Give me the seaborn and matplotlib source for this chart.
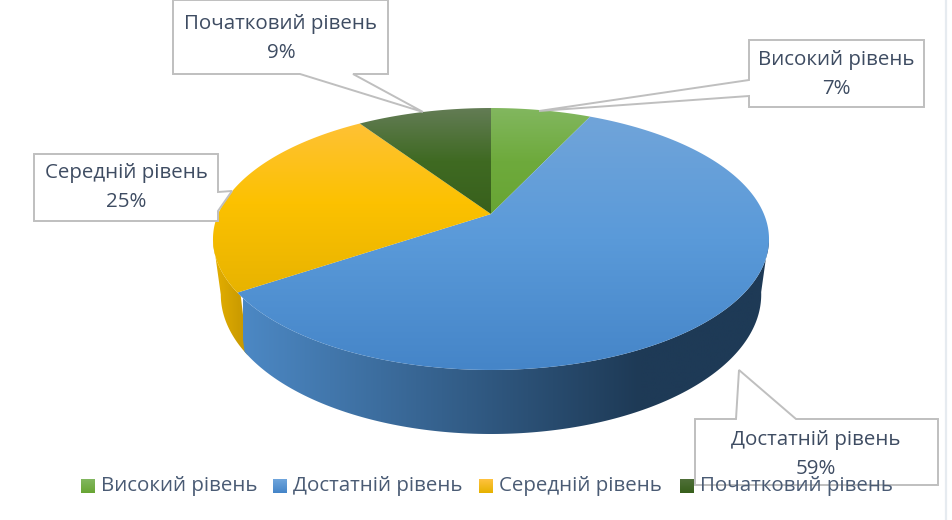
import numpy as np
import seaborn as sns
import matplotlib
matplotlib.use("Agg")
import matplotlib.pyplot as plt
from matplotlib.colors import LinearSegmentedColormap
from matplotlib.patches import Polygon

categories = ["Високий рівень", "Достатній рівень", "Середній рівень", "Початковий рівень"]
values = [7.0, 58.6, 25.0, 9.4]

top_shades = [
    ["#82b75f", "#6eaa3c", "#68a534"],
    ["#72a5da", "#5a9ad9", "#4585c8"],
    ["#ffc23f", "#fcc100", "#e6b200"],
    ["#637c55", "#3f6a22", "#38601c"],
]
legend_shades = [
    ["#82b75f", "#68a534"],
    ["#6fa5dc", "#4585c8"],
    ["#ffc23f", "#e6b200"],
    ["#4f6f38", "#38601c"],
]
side_blue = [(0.0, "#4c88c4"), (0.75, "#1e3a56"), (1.0, "#1e3a56")]
side_orange = [(0.0, "#e8b200"), (1.0, "#c49600")]

# box (left, right, top, bottom), side the pointer leaves from, pointer, text (x, line 1 y, line 2 y)
callouts = [
    ((749, 924, 40, 107), "left", [(749, 80), (539, 111), (749, 96)], (836, 60, 89)),
    ((695, 938, 419, 485), "top", [(736, 419), (739, 370), (796, 419)], (816, 440, 469)),
    ((34, 218, 154, 221), "right", [(218, 192), (232, 191), (218, 211)], (126, 173, 202)),
    ((173, 388, 0, 74), "bottom", [(353, 74), (423, 112), (300, 74)], (281, 24, 53)),
]
legend_boxes = [81, 273, 479, 680]

sns.set_theme(style="white")
plt.rcParams["font.family"] = ["Open Sans", "DejaVu Sans"]
TEXT = "#3e4c62"
LEG = "#4a5b74"
FS = 14.75

fig = plt.figure(figsize=(9.53, 5.2), dpi=100, facecolor="white")
ax = fig.add_axes([0, 0, 1, 1])


def rim(deg):
    t = np.radians(deg)
    u, v = np.sin(t), np.cos(t)
    w = 1 + 0.1908 * v
    return 491 + 272.9 * u / w, 214 - 126.2 * v / w


def low(x, y):
    return 491 + 0.972 * (x - 491), 40 + 1.065 * y


def gradient(colors, extent, clip, horizontal=False, z=2.0):
    cmap = LinearSegmentedColormap.from_list("g", colors)
    g = np.linspace(0, 1, 256)
    g = g[None, :] if horizontal else g[:, None]
    im = ax.imshow(g, cmap=cmap, extent=extent, aspect="auto", zorder=z, origin="upper",
                   interpolation="bilinear", vmin=0, vmax=1)
    patch = Polygon(clip, closed=True, transform=ax.transData, fc="none", ec="none")
    ax.add_patch(patch)
    im.set_clip_path(patch)
    return im


def side_polygon(a, b):
    x, y = rim(np.linspace(a, b, 160))
    lx, ly = low(x, y)
    return np.column_stack([np.r_[x, lx[::-1]], np.r_[y, ly[::-1]]])


edges = np.concatenate([[0], np.cumsum(values)]) * 3.6

# visible sides: only the front arc, between the silhouette angles
RIGHT_SIL, LEFT_SIL = 100.0, 259.0
gradient(side_orange, (210, 248, 440, 100), side_polygon(edges[2] - 1.5, LEFT_SIL), horizontal=True, z=2.0)
gradient(side_blue, (243, 772, 440, 100), side_polygon(RIGHT_SIL, edges[2]), horizontal=True, z=2.1)

# top faces
y_ends = [214, 370, 300, 214]
for i in range(len(values)):
    x, y = rim(np.linspace(edges[i], edges[i + 1], 200))
    poly = np.column_stack([np.r_[491, x], np.r_[214, y]])
    gradient(top_shades[i], (200, 780, y_ends[i], 108), poly, z=3)

# callouts
for (box, side, ptr, (tx, y1, y2)), cat, val in zip(callouts, categories, values):
    l, r, t, b = box
    if side == "left":
        pts = [(l, t), (r, t), (r, b), (l, b), ptr[2], ptr[1], ptr[0]]
    elif side == "right":
        pts = [(l, t), (r, t), ptr[0], ptr[1], ptr[2], (r, b), (l, b)]
    elif side == "top":
        pts = [(l, t), ptr[0], ptr[1], ptr[2], (r, t), (r, b), (l, b)]
    else:
        pts = [(l, t), (r, t), (r, b), ptr[0], ptr[1], ptr[2], (l, b)]
    ax.add_patch(Polygon(pts, closed=True, fc="white", ec="#bfbfbf", lw=1.4, zorder=4, joinstyle="miter"))
    ax.text(tx, y1, cat, ha="center", va="center", fontsize=FS, color=TEXT, zorder=5)
    ax.text(tx, y2, f"{round(val)}%", ha="center", va="center", fontsize=FS, color=TEXT, zorder=5)

# legend
for x0, cat, shades in zip(legend_boxes, categories, legend_shades):
    cmap = LinearSegmentedColormap.from_list("l", shades)
    ax.imshow(np.linspace(0, 1, 32)[:, None], cmap=cmap, extent=(x0, x0 + 14, 493, 479),
              aspect="auto", zorder=6, origin="upper", vmin=0, vmax=1)
    ax.text(x0 + 20, 486, cat, ha="left", va="center", fontsize=FS, color=LEG, zorder=6)

# faint frame at the right edge of the pasted picture
ax.plot([946, 946], [0, 520], color="#e6ebf0", lw=1.6, zorder=1)

ax.set_xlim(0, 953)
ax.set_ylim(520, 0)
ax.axis("off")
fig.savefig("out.png", dpi=100, facecolor="white")
